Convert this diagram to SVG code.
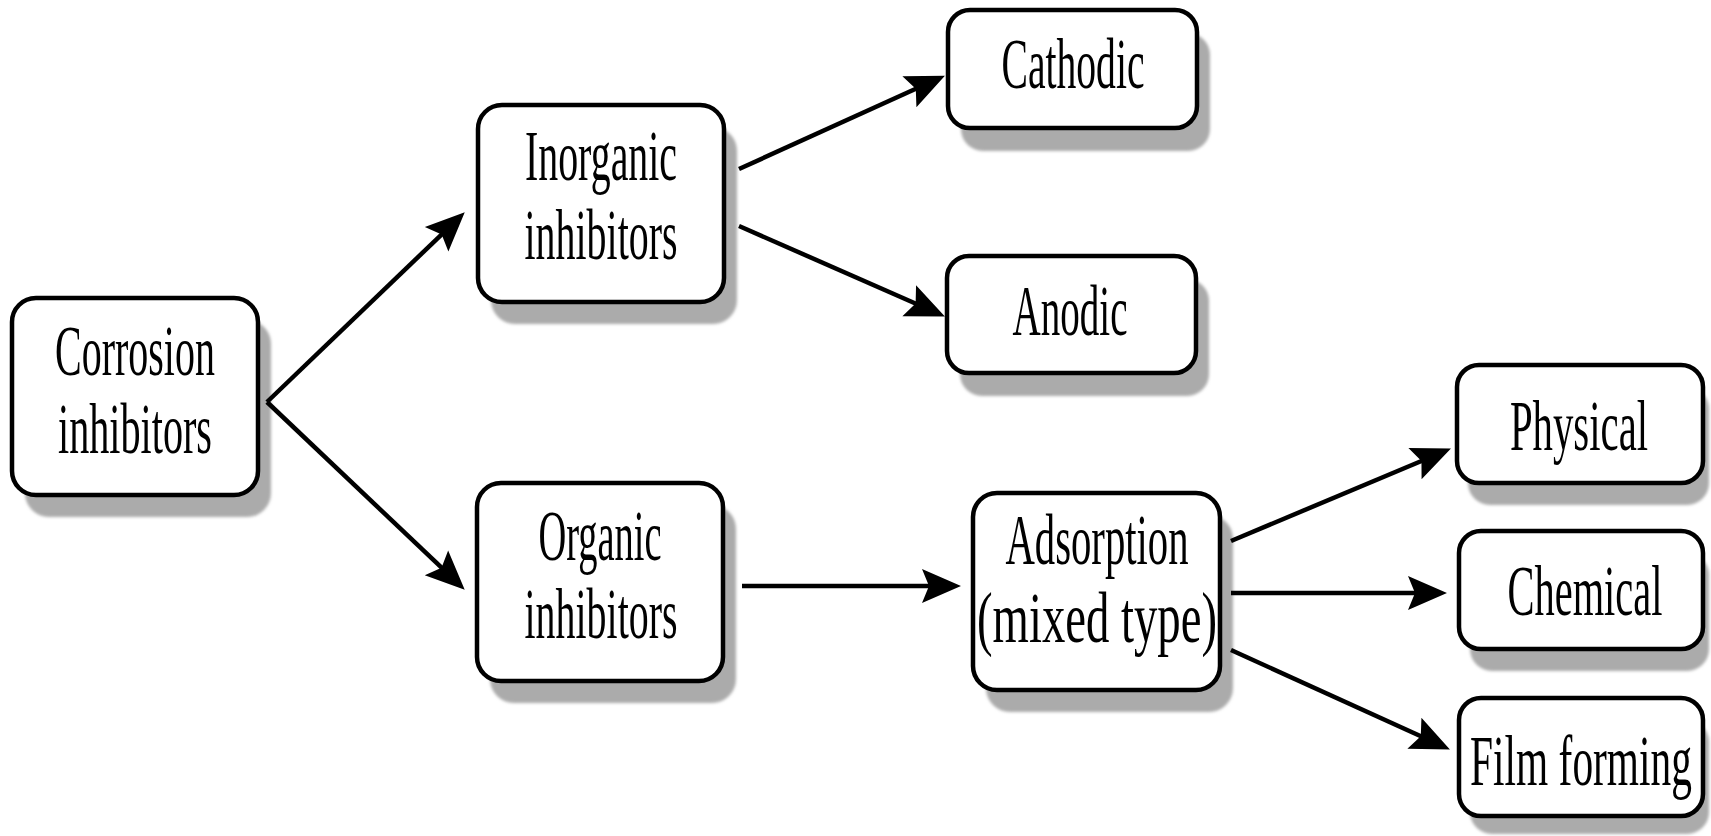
<svg xmlns="http://www.w3.org/2000/svg" width="1711" height="836" viewBox="0 0 1711 836">
<defs>
<filter id="blur" x="-10%" y="-10%" width="120%" height="120%"><feGaussianBlur stdDeviation="1.5"/></filter>
<marker id="ah" markerUnits="userSpaceOnUse" orient="auto" refX="0" refY="0" markerWidth="60" markerHeight="40" overflow="visible">
<path d="M21,0 L-18,-17 L-11,0 L-18,17 Z" fill="#000"/>
</marker>
</defs>
<style>
.sh{fill:#ababab;filter:url(#blur)}
.bx{fill:#fff;stroke:#000;stroke-width:4.5}
.t{font-family:"Liberation Serif","Times New Roman",serif;font-size:71px;fill:#000;text-anchor:middle}
.c line{stroke:#000;stroke-width:4.5;marker-end:url(#ah)}
</style>
<rect width="1711" height="836" fill="#fff"/>
<g id="corrosion">
<rect class="sh" x="25" y="320" width="246" height="197" rx="24"/>
<rect class="bx" x="12" y="298" width="246" height="197" rx="24"/>
<text class="t" transform="translate(135 375) scale(0.563 1)">Corrosion</text>
<text class="t" transform="translate(135 453) scale(0.566 1)">inhibitors</text>
</g>
<g id="inorganic">
<rect class="sh" x="491" y="127" width="246" height="197" rx="24"/>
<rect class="bx" x="478" y="105" width="246" height="197" rx="24"/>
<text class="t" transform="translate(601 180) scale(0.562 1)">Inorganic</text>
<text class="t" transform="translate(601 259) scale(0.562 1)">inhibitors</text>
</g>
<g id="cathodic">
<rect class="sh" x="961" y="33" width="249" height="118" rx="22"/>
<rect class="bx" x="948" y="10" width="249" height="118" rx="22"/>
<text class="t" transform="translate(1073 88) scale(0.558 1)">Cathodic</text>
</g>
<g id="anodic">
<rect class="sh" x="960" y="279" width="249" height="117" rx="22"/>
<rect class="bx" x="947" y="256" width="249" height="117" rx="22"/>
<text class="t" transform="translate(1070 335) scale(0.55 1)">Anodic</text>
</g>
<g id="organic">
<rect class="sh" x="490" y="505" width="246" height="198" rx="24"/>
<rect class="bx" x="477" y="483" width="246" height="198" rx="24"/>
<text class="t" transform="translate(600 560) scale(0.542 1)">Organic</text>
<text class="t" transform="translate(601 638) scale(0.562 1)">inhibitors</text>
</g>
<g id="adsorption">
<rect class="sh" x="986" y="515" width="247" height="197" rx="24"/>
<rect class="bx" x="973" y="493" width="247" height="197" rx="24"/>
<text class="t" transform="translate(1097 564) scale(0.573 1)">Adsorption</text>
<text class="t" transform="translate(1097 642) scale(0.658 1)">(mixed type)</text>
</g>
<g id="physical">
<rect class="sh" x="1468" y="387" width="241" height="118" rx="22"/>
<rect class="bx" x="1457" y="365" width="246" height="118" rx="22"/>
<text class="t" transform="translate(1579 450) scale(0.574 1)">Physical</text>
</g>
<g id="chemical">
<rect class="sh" x="1470" y="553" width="239" height="118" rx="22"/>
<rect class="bx" x="1459" y="531" width="244" height="118" rx="22"/>
<text class="t" transform="translate(1585 615) scale(0.57 1)">Chemical</text>
</g>
<g id="film">
<rect class="sh" x="1470" y="720" width="239" height="114" rx="22"/>
<rect class="bx" x="1459" y="698" width="244" height="118" rx="22"/>
<text class="t" transform="translate(1581 785) scale(0.583 1)">Film forming</text>
</g>
<g id="connectors" class="c">
<line x1="267" y1="402" x2="449.6" y2="226.8"/>
<line x1="267" y1="402" x2="449.5" y2="575.2"/>
<line x1="739" y1="169" x2="925.8" y2="84.3"/>
<line x1="739" y1="226" x2="925.7" y2="308"/>
<line x1="742" y1="586" x2="940" y2="586"/>
<line x1="1231" y1="541" x2="1431.6" y2="456.7"/>
<line x1="1231" y1="593" x2="1426" y2="593"/>
<line x1="1231" y1="650" x2="1430.8" y2="740.7"/>
</g>
</svg>
